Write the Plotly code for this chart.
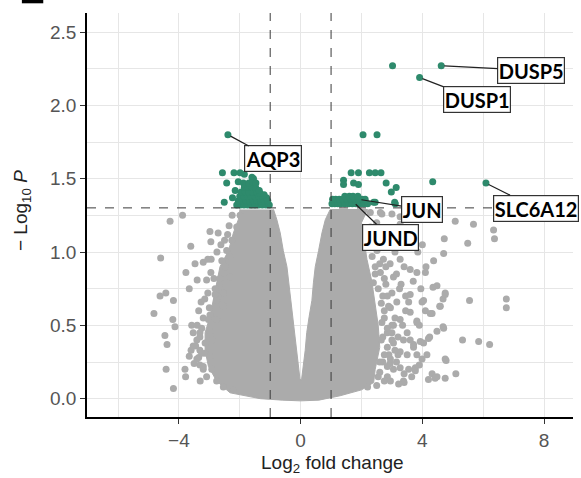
import plotly.graph_objects as go

# ---------------- data ----------------
# dense envelope of the non-significant cloud (log2FC, -log10 P)
cloud_x = [-1.99, -2.05, -2.21, -2.37, -2.65, -2.76, -2.87, -2.98, -3.14, -3.14, -3.03, -2.76, -2.32, -1.33,
           -0.6, 0.0, 0.6, 1.3, 2.0, 2.4, 2.45, 2.6, 2.55, 2.45, 2.34, 2.18, 2.06, 2.0, 2.2,
           0.97, 0.81, 0.70, 0.59, 0.48, 0.42, 0.37, 0.28, 0.20, 0.15, 0.09, 0.03,
           -0.02, -0.07, -0.14, -0.20, -0.26, -0.31, -0.38, -0.45, -0.57, -0.67, -0.78, -0.89]
cloud_y = [1.29, 1.22, 1.13, 1.01, 0.90, 0.79, 0.67, 0.56, 0.45, 0.33, 0.22, 0.12, 0.04, 0.0,
           -0.01, -0.015, -0.01, 0.02, 0.06, 0.11, 0.2, 0.35, 0.5, 0.65, 0.8, 0.95, 1.1, 1.2, 1.29,
           1.29, 1.22, 1.13, 1.01, 0.90, 0.79, 0.67, 0.56, 0.45, 0.33, 0.22, 0.13,
           0.13, 0.22, 0.33, 0.45, 0.56, 0.67, 0.79, 0.90, 1.01, 1.13, 1.22, 1.29]

# scattered non-significant genes
ns_x = [-4.29, -3.88, -2.98, -2.71, -3.61, -2.95, -4.60, -3.47, -3.20, -2.94, -2.59, -3.77, -3.40, -3.09,
        -2.85, -3.66, -2.67, -2.81, -4.62, -4.43, -4.18, -3.27, -3.00, -4.82, -4.20, -4.13, -3.58, -3.53,
        -3.31, -4.46, -4.39, -3.31, -3.14, -3.66, -3.31, -4.42, -3.80, -3.78, -4.18,
        -3.45, -3.35, -3.20, -3.50, -3.40, -3.20, -3.05, -2.95, -2.75, -2.50, -2.35, -2.25, -3.60, -3.30,
        -2.32, -2.48, -2.32, -2.65, -2.54, -2.76, -2.54, -2.98, -2.76, -3.25, -2.98, -3.41, -3.14, -3.53,
        -3.25, -2.98, -3.41, -3.20, -2.92, -3.09, -2.76, -2.54, -2.21, -2.43, -2.26, -2.10, -1.99, -2.81,
        -3.03, -3.31, -3.05, -2.62, -2.40, -3.35, -3.15, -2.90,
        5.08, 5.68, 6.34, 4.72, 5.49, 6.37, 4.70, 4.37, 4.12, 3.82, 4.10, 4.35, 4.75, 4.68, 4.04, 5.55,
        6.76, 6.76, 4.59, 4.32, 3.82, 4.68, 4.48, 4.24, 4.04, 5.32, 5.85, 6.21, 3.71, 4.78, 3.90, 3.77,
        4.32, 4.48, 4.75, 5.10, 4.20, 3.40, 3.40,
        2.29, 2.62, 2.67, 3.00, 3.27, 2.29, 2.62, 3.27,
        2.29, 2.51, 2.72, 2.94, 2.62, 3.05, 2.39, 3.27, 3.60, 4.48,
        4.75, 3.99, 4.57, 3.60, 3.55, 3.16, 2.89, 3.60, 4.26, 3.27, 2.67, 3.00, 3.82, 4.70, 4.20, 3.93,
        3.38, 3.05, 3.71, 3.27, 3.82, 3.99, 4.75, 2.94, 3.27, 3.77, 3.55, 4.42, 3.38, 3.22,
        2.70, 2.80, 2.75, 2.85, 2.90, 2.70, 2.65, 3.10, 3.00, 2.55, 2.45, 2.80, 2.60, 2.85, 3.00, 2.75,
        3.15, 3.30, 3.45, 3.50, 3.20, 3.05,
        2.50, 2.40, 2.55, 2.35, 2.60, 2.45, 2.75, 2.55, 2.85, 2.65, 2.95, 2.75, 3.05, 2.85, 2.70, 3.00,
        3.20, 2.85, 3.10, 2.75, 2.95, 3.15, 2.60, 2.85, 2.55, 2.75, 2.95, 2.20, 2.50, 3.35, 3.45, 3.25,
        3.40, 3.10, 2.90, 3.15, 2.85, 3.50, 3.60, 3.65, 3.90, 3.95, 4.10, 4.15, 3.70, 3.85, 4.00]
ns_y = [1.21, 1.25, 1.14, 1.13, 1.04, 1.07, 0.96, 0.92, 0.93, 0.95, 0.94, 0.86, 0.81, 0.81,
        0.82, 0.75, 0.76, 0.71, 0.70, 0.72, 0.67, 0.66, 0.62, 0.58, 0.54, 0.49, 0.50, 0.45,
        0.42, 0.43, 0.37, 0.33, 0.31, 0.29, 0.23, 0.20, 0.20, 0.15, 0.07,
        0.36, 0.28, 0.20, 0.24, 0.50, 0.55, 0.72, 0.86, 1.00, 1.08, 1.18, 1.25, 0.33, 0.12,
        0.97, 0.90, 0.83, 0.82, 0.72, 0.67, 0.63, 0.57, 0.54, 0.48, 0.46, 0.40, 0.38, 0.36,
        0.31, 0.29, 0.27, 0.22, 0.20, 0.15, 0.12, 0.08, 0.06, 1.01, 1.08, 1.17, 1.25, 0.75,
        0.54, 0.45, 0.95, 1.05, 1.12, 0.60, 0.68, 0.40,
        1.21, 1.19, 1.15, 1.09, 1.06, 1.09, 0.99, 0.94, 0.90, 0.86, 0.86, 0.76, 0.72, 0.68, 0.67, 0.67,
        0.68, 0.62, 0.63, 0.58, 0.53, 0.49, 0.46, 0.42, 0.38, 0.40, 0.39, 0.37, 0.37, 0.26, 0.23, 0.21,
        0.17, 0.15, 0.14, 0.17, 0.13, 0.17, 0.11,
        1.27, 1.27, 1.26, 1.26, 1.24, 1.17, 1.15, 1.19,
        1.04, 1.01, 0.95, 0.92, 0.86, 0.83, 0.79, 0.95, 0.88, 0.77,
        0.71, 0.66, 0.63, 0.71, 0.66, 0.66, 0.63, 0.59, 0.58, 0.54, 0.52, 0.50, 0.52, 0.48, 0.41, 0.39,
        0.40, 0.38, 0.35, 0.32, 0.30, 0.27, 0.27, 0.24, 0.21, 0.19, 0.20, 0.14, 0.12, 0.10,
        0.70, 0.78, 0.60, 0.45, 0.30, 0.25, 0.40, 0.55, 0.72, 1.10, 0.90, 0.90, 0.18, 0.15, 0.45, 1.05,
        0.85, 0.78, 0.60, 0.45, 0.30, 0.20,
        1.20, 1.12, 1.05, 0.97, 0.92, 0.85, 0.82, 0.75, 0.70, 0.65, 0.62, 0.55, 0.50, 0.48, 0.42, 0.40,
        0.42, 0.35, 0.33, 0.30, 0.27, 0.25, 0.25, 0.22, 0.15, 0.12, 0.12, 0.08, 0.09, 0.50, 0.70, 0.75,
        0.90, 1.00, 1.05, 1.12, 1.15, 0.30, 0.40, 0.15, 0.50, 0.75, 0.60, 0.30, 0.80, 1.00, 1.05]

# significant genes (|log2FC| > 1 and P < 0.05)
sig_x = [-2.39, -2.57, -2.19, -1.99, -1.85, -2.43, -2.05, -1.88, -1.60, -1.55, -2.24, -2.51, -2.15,
         -2.10, -1.98, -1.86, -1.74, -1.62, -1.50, -1.38, -1.26, -1.14, -1.03,
         -2.05, -1.93, -1.80, -1.68, -1.56, -1.44, -1.32, -1.20, -1.08,
         -2.00, -1.87, -1.75, -1.62, -1.50, -1.38, -1.25, -1.12,
         -1.95, -1.82, -1.70, -1.57, -1.45, -1.33, -1.20,
         -1.85, -1.72, -1.60, -1.48, -1.36, -1.70, -1.58, -1.47,
         4.62, 3.02, 3.91, 2.05, 2.51, 1.66, 1.90, 2.26, 2.45, 2.64,
         1.41, 1.41, 1.74, 1.90, 2.81, 3.14, 2.98, 4.34, 6.09, 3.09, 2.40, 2.45, 3.11,
         1.03, 1.12, 1.22, 1.32, 1.45, 1.58, 1.70, 1.82, 1.95, 2.08, 2.20,
         1.05, 1.15, 1.27, 1.40, 1.52, 1.65, 1.78, 1.90, 2.02, 2.12,
         1.45, 1.60, 1.72, 1.88]
sig_y = [1.80, 1.54, 1.54, 1.54, 1.53, 1.47, 1.48, 1.47, 1.51, 1.50, 1.37, 1.34, 1.42,
         1.32, 1.32, 1.32, 1.32, 1.32, 1.32, 1.32, 1.32, 1.32, 1.32,
         1.35, 1.35, 1.35, 1.35, 1.35, 1.35, 1.35, 1.35, 1.35,
         1.38, 1.38, 1.38, 1.38, 1.38, 1.38, 1.38, 1.37,
         1.41, 1.41, 1.41, 1.41, 1.41, 1.40, 1.39,
         1.44, 1.44, 1.44, 1.44, 1.42, 1.47, 1.48, 1.47,
         2.27, 2.27, 2.19, 1.80, 1.80, 1.54, 1.54, 1.54, 1.54, 1.54,
         1.49, 1.46, 1.47, 1.46, 1.47, 1.44, 1.41, 1.48, 1.47, 1.34, 1.34, 1.34, 1.33,
         1.33, 1.33, 1.33, 1.33, 1.33, 1.33, 1.33, 1.33, 1.33, 1.33, 1.33,
         1.36, 1.36, 1.36, 1.36, 1.36, 1.36, 1.36, 1.36, 1.36, 1.36,
         1.38, 1.38, 1.38, 1.38]

# labelled genes: name, point, label-box centre
lab_names = ["AQP3", "DUSP5", "DUSP1", "SLC6A12", "JUN", "JUND"]
lab_x = [-2.39, 4.62, 3.91, 6.09, 1.90, 1.74]
lab_y = [1.80, 2.27, 2.19, 1.47, 1.36, 1.34]
box_x = [-0.92, 7.58, 5.78, 7.73, 3.99, 2.94]
box_y = [1.635, 2.24, 2.04, 1.30, 1.29, 1.10]

fc_cut = 1.0
p_cut = 1.30103

GREY = "#ABABAB"
GREEN = "#2E8A6C"

fig = go.Figure()
fig.add_trace(go.Scatter(x=cloud_x, y=cloud_y, mode="lines", fill="toself",
                         fillcolor=GREY, line=dict(color=GREY, width=1),
                         hoverinfo="skip", showlegend=False))
fig.add_trace(go.Scatter(x=ns_x, y=ns_y, mode="markers",
                         marker=dict(color=GREY, size=7, line=dict(width=0)), showlegend=False))
fig.add_trace(go.Scatter(x=sig_x, y=sig_y, mode="markers",
                         marker=dict(color=GREEN, size=7, line=dict(width=0)), showlegend=False))

# threshold lines
dash = dict(color="#3a3a3a", width=1, dash="dash")
fig.add_shape(type="line", xref="x", yref="paper", x0=-fc_cut, x1=-fc_cut, y0=0, y1=1, line=dash)
fig.add_shape(type="line", xref="x", yref="paper", x0=fc_cut, x1=fc_cut, y0=0, y1=1, line=dash)
fig.add_shape(type="line", xref="paper", yref="y", x0=0, x1=1, y0=p_cut, y1=p_cut, line=dash)

# cropped panel tag
fig.add_shape(type="rect", xref="paper", yref="paper", x0=-0.134, x1=-0.09, y0=1.024, y1=1.04,
              fillcolor="black", line=dict(width=0))

for n, px, py, bx, by in zip(lab_names, lab_x, lab_y, box_x, box_y):
    fig.add_annotation(x=px, y=py, ax=bx, ay=by, axref="x", ayref="y", xref="x", yref="y",
                       text="<b>%s</b>" % n, showarrow=True, arrowhead=0, arrowwidth=1.2,
                       arrowcolor="#222", standoff=3,
                       font=dict(family="Lato", size=20, color="black"),
                       bgcolor="white", bordercolor="#333", borderwidth=1.2, borderpad=0.5)

# axis titles
fig.add_annotation(xref="paper", yref="paper", x=0.506, y=-0.117, xanchor="center", yanchor="middle",
                   showarrow=False, text="Log<sub>2</sub> fold change",
                   font=dict(family="Liberation Sans", size=19, color="#222"))
fig.add_annotation(xref="paper", yref="paper", x=-0.134, y=0.512, xanchor="center", yanchor="middle",
                   showarrow=False, textangle=-90,
                   text="\u2212 Log<sub>10</sub> <i>P</i>",
                   font=dict(family="Liberation Sans", size=19, color="#222"))

axis_common = dict(showline=True, linecolor="black", linewidth=1.6, ticks="outside", ticklen=5,
                   tickwidth=1.4, tickcolor="#333", showgrid=True, gridcolor="#E6E6E6", gridwidth=1,
                   zeroline=False, tickfont=dict(family="Liberation Sans", size=19, color="#555"),
                   mirror=False)
fig.update_xaxes(range=[-7.02, 8.95], tickvals=[-4, 0, 4, 8], ticktext=["\u22124", "0", "4", "8"],
                 minor=dict(tickvals=[-6, -2, 2, 6], showgrid=True, gridcolor="#E6E6E6", gridwidth=1, ticks=""),
                 **axis_common)
fig.update_yaxes(range=[-0.125, 2.63], tickvals=[0, 0.5, 1.0, 1.5, 2.0, 2.5],
                 ticktext=["0.0", "0.5", "1.0", "1.5", "2.0", "2.5"],
                 minor=dict(tickvals=[0.25, 0.75, 1.25, 1.75, 2.25], showgrid=True, gridcolor="#E6E6E6",
                            gridwidth=1, ticks=""),
                 **axis_common)

fig.update_layout(width=581, height=478, margin=dict(l=87, r=8, t=13, b=61),
                  paper_bgcolor="white", plot_bgcolor="white", showlegend=False)

fig.write_html("out.html")
